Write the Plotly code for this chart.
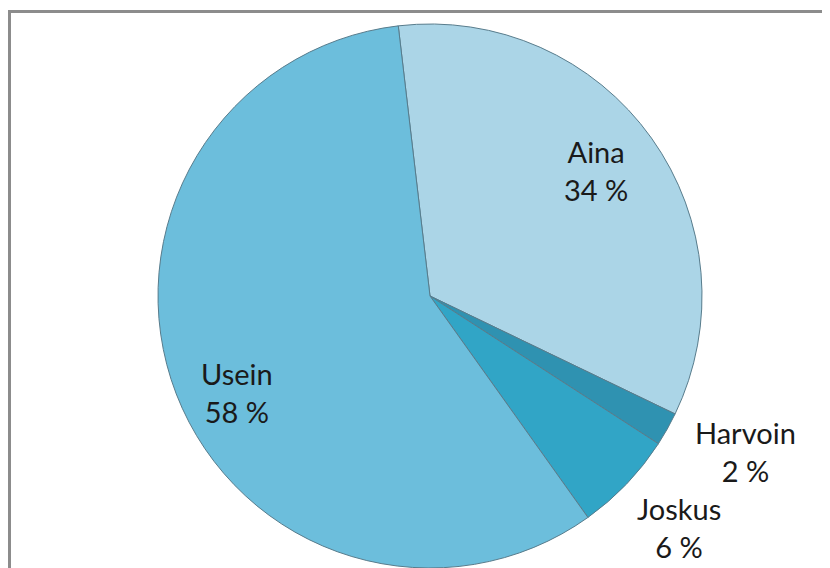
"""Pie chart: how often (Aina / Harvoin / Joskus / Usein)."""

import plotly.graph_objects as go

labels = ["Aina", "Harvoin", "Joskus", "Usein"]
values = [34, 2, 6, 58]
colors = ["#abd5e7", "#2f92b1", "#31a5c6", "#6cbedc"]

# page is offset by the 8px body margin, so the figure is a bit smaller
W, H = 822, 560
OFF = 8

# label centres in page pixels (labels sit where the original chart put them)
label_xy = [(596, 170), (745, 451), (679, 527), (237, 392)]

fig = go.Figure(
    go.Pie(
        labels=labels,
        values=values,
        sort=False,
        direction="clockwise",
        rotation=-6.7,
        marker=dict(colors=colors, line=dict(color="#587c8c", width=1)),
        textinfo="none",
        hoverinfo="label+percent",
        showlegend=False,
        domain=dict(x=[150 / W, 694 / W], y=[0, (H - 16) / H]),
    )
)

for lab, val, (px, py) in zip(labels, values, label_xy):
    fig.add_annotation(
        x=(px - OFF) / W,
        y=1 - (py - OFF) / H,
        xref="paper",
        yref="paper",
        text=f"{lab}<br>{val} %",
        showarrow=False,
        align="center",
        xanchor="center",
        yanchor="middle",
        font=dict(family="Lato, sans-serif", size=29, color="#1a1a1a"),
    )

# grey frame around the chart area (runs off the right and bottom edges)
fig.add_shape(
    type="rect",
    xref="paper",
    yref="paper",
    x0=1.5 / W,
    x1=1.1,
    y0=-0.1,
    y1=1 - 3.5 / H,
    line=dict(color="#8c8c8c", width=3),
    layer="below",
)

fig.update_layout(
    width=W,
    height=H,
    paper_bgcolor="white",
    plot_bgcolor="white",
    margin=dict(l=0, r=0, t=0, b=0),
)

fig.write_html("out.html")
